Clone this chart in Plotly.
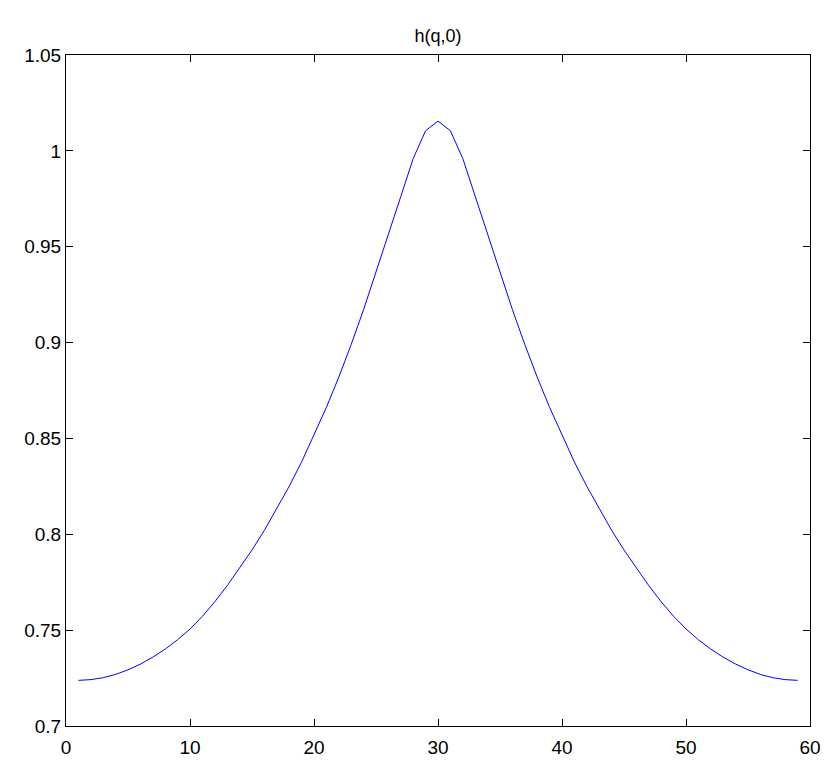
import plotly.graph_objects as go

# q index and h(q,0) values
q = list(range(1, 60))
h = [0.7238, 0.7242, 0.7252, 0.7269, 0.7293, 0.7323, 0.7359, 0.7401, 0.7450, 0.7506,
     0.7572, 0.7648, 0.7732, 0.7822, 0.7918, 0.8021, 0.8132, 0.8250, 0.8377, 0.8515,
     0.8662, 0.8820, 0.8990, 0.9172, 0.9365, 0.9562, 0.9762, 0.9960, 1.0105, 1.0155,
     1.0105, 0.9960, 0.9762, 0.9562, 0.9365, 0.9172, 0.8990, 0.8820, 0.8662, 0.8515,
     0.8377, 0.8250, 0.8132, 0.8021, 0.7918, 0.7822, 0.7732, 0.7648, 0.7572, 0.7506,
     0.7450, 0.7401, 0.7359, 0.7323, 0.7293, 0.7269, 0.7252, 0.7242, 0.7238]

x_ticks = [0, 10, 20, 30, 40, 50, 60]
y_ticks = [0.7, 0.75, 0.8, 0.85, 0.9, 0.95, 1.0, 1.05]
y_labels = ["0.7", "0.75", "0.8", "0.85", "0.9", "0.95", "1", "1.05"]

fig = go.Figure()
fig.add_trace(go.Scatter(x=q, y=h, mode="lines",
                         line=dict(color="#0000ff", width=1)))

axis_style = dict(showline=True, linecolor="black", linewidth=1, mirror="ticks",
                  ticks="inside", ticklen=7, tickcolor="black", tickwidth=1,
                  showgrid=False, zeroline=False, automargin=False,
                  tickfont=dict(family="Liberation Sans, Arial", size=19, color="black"))

fig.update_xaxes(range=[0, 60], tickvals=x_ticks, ticklabelstandoff=4, **axis_style)
fig.update_yaxes(range=[0.7, 1.05], tickvals=y_ticks, ticktext=y_labels, **axis_style)

# page body has an 8px margin, so the figure is a bit smaller than the window
fig.update_layout(
    width=814, height=759,
    margin=dict(l=58, r=12, t=47, b=41),
    paper_bgcolor="white", plot_bgcolor="white",
    showlegend=False,
    title=dict(text="h(q,0)", x=0.5283, xanchor="center", y=0.963, yanchor="middle",
               font=dict(family="Liberation Sans, Arial", size=18, color="black")),
)

fig.write_html("out.html")
